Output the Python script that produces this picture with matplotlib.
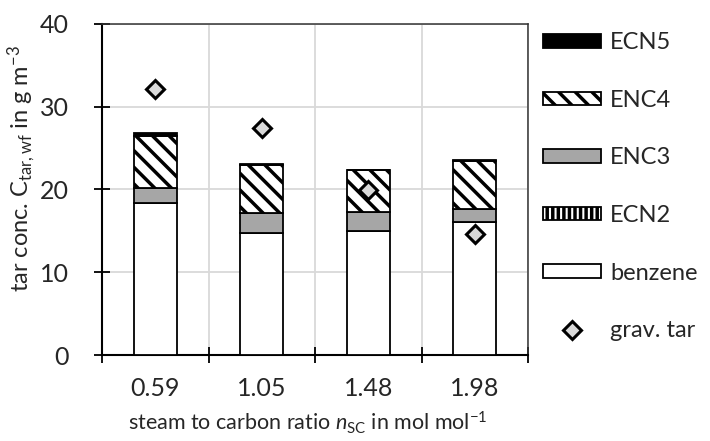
import matplotlib
matplotlib.use("Agg")
import matplotlib.pyplot as plt
import numpy as np

plt.rcParams['font.family'] = ['Lato', 'DejaVu Sans']
plt.rcParams['mathtext.fontset'] = 'custom'
plt.rcParams['mathtext.rm'] = 'Lato'
plt.rcParams['mathtext.it'] = 'Lato:italic'
plt.rcParams['hatch.linewidth'] = 2.5

# tar composition per steam to carbon ratio, g/m3
ratios = ['0.59', '1.05', '1.48', '1.98']
benzene = [18.4, 14.8, 15.0, 16.1]
ecn2 = [0.0, 0.0, 0.0, 0.0]
enc3 = [1.8, 2.4, 2.3, 1.5]
enc4 = [6.3, 5.8, 5.0, 5.8]
ecn5 = [0.3, 0.1, 0.1, 0.2]
grav_tar = [32.1, 27.4, 19.9, 14.6]

fig = plt.figure(figsize=(7.1, 4.41), dpi=100)
ax = fig.add_axes([0.1437, 0.195, 0.6, 0.7506])

x = np.arange(len(ratios))
w = 0.4
b1 = np.array(benzene)
b2 = b1 + np.array(ecn2)
b3 = b2 + np.array(enc3)
b4 = b3 + np.array(enc4)

h_benz = ax.bar(x, benzene, w, color='white', edgecolor='black', lw=1.3, zorder=3, label='benzene')
h_ecn2 = ax.bar(x, ecn2, w, bottom=b1, color='white', edgecolor='black', hatch='|||', lw=1.3, zorder=3, label='ECN2')
h_enc3 = ax.bar(x, enc3, w, bottom=b2, color='#a6a6a6', edgecolor='black', lw=1.3, zorder=3, label='ENC3')
h_enc4 = ax.bar(x, enc4, w, bottom=b3, color='white', edgecolor='black', hatch='\\\\', lw=1.3, zorder=3, label='ENC4')
h_ecn5 = ax.bar(x, ecn5, w, bottom=b4, color='black', edgecolor='black', lw=1.3, zorder=3, label='ECN5')
h_grav, = ax.plot(x, grav_tar, 'D', ms=9, mfc='#d9d9d9', mec='black', mew=2.2, ls='none', zorder=4, label='grav. tar')

fs = 18
txt = '#262626'
ax.set_xlim(-0.5, 3.5)
ax.set_ylim(0, 40)
ax.set_yticks([0, 10, 20, 30, 40])
ax.set_xticks(np.arange(-0.5, 4.0, 1.0))
ax.set_xticklabels([])
ax.set_xticks(x, minor=True)
ax.set_xticklabels(ratios, minor=True)
ax.tick_params(axis='x', which='minor', length=0, pad=16, labelsize=fs, labelcolor=txt)
ax.tick_params(axis='x', which='major', direction='inout', length=12, width=1.3)
ax.tick_params(axis='y', direction='inout', length=12, width=1.3, labelsize=fs, labelcolor=txt, pad=18)
ax.grid(True, which='major', color='#d9d9d9', lw=1.3, zorder=0)

for s in ['left', 'bottom']:
    ax.spines[s].set_linewidth(1.5)
for s in ['top', 'right']:
    ax.spines[s].set_linewidth(1.1)
    ax.spines[s].set_color('#333333')

ax.set_ylabel('tar conc. C$_\\mathregular{tar,wf}$ in g m$^\\mathregular{-3}$', fontsize=17, color=txt)
ax.yaxis.set_label_coords(-0.15, 0.563)
ax.set_xlabel('steam to carbon ratio $\\mathit{n}_\\mathregular{SC}$ in mol mol$^\\mathregular{-1}$', fontsize=15.5, color=txt)
ax.xaxis.set_label_coords(0.484, -0.165)
ax.xaxis.label.set_va('top')

fig.legend([h_ecn5, h_enc4, h_enc3, h_ecn2, h_benz, h_grav],
           ['ECN5', 'ENC4', 'ENC3', 'ECN2', 'benzene', 'grav. tar'],
           loc='upper left', bbox_to_anchor=(0.765, 0.927), frameon=False,
           borderpad=0, borderaxespad=0,
           fontsize=17, labelcolor=txt, handlelength=2.46, handleheight=0.5,
           labelspacing=1.55, handletextpad=0.38)

fig.savefig('out.png', dpi=100)
